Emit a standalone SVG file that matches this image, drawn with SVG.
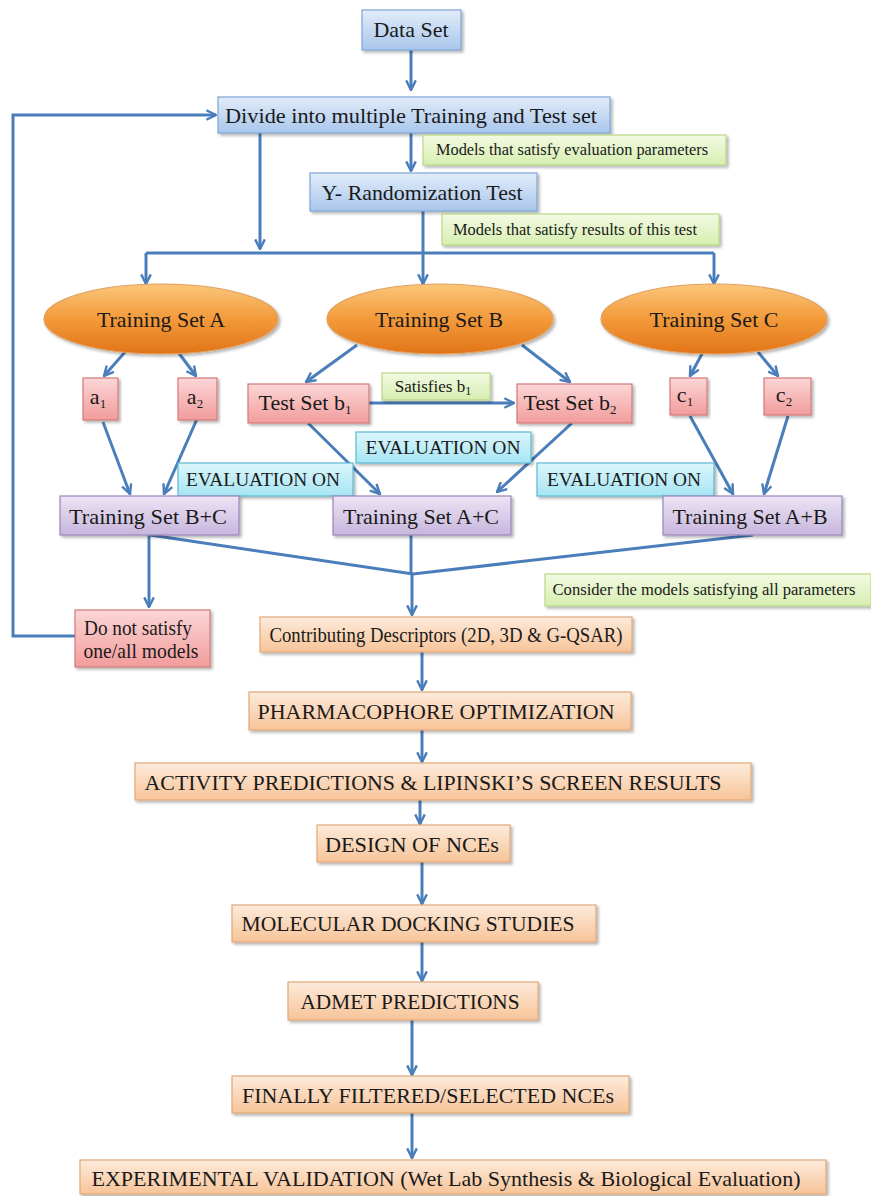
<svg xmlns="http://www.w3.org/2000/svg" width="871" height="1196" viewBox="0 0 871 1196">
<defs>
<linearGradient id="gBlue" x1="0" y1="0" x2="0" y2="1"><stop offset="0" stop-color="#e2edf9"/><stop offset="1" stop-color="#a9c6ec"/></linearGradient>
<linearGradient id="gOrange" x1="0" y1="0" x2="0" y2="1"><stop offset="0" stop-color="#fbc67a"/><stop offset="0.5" stop-color="#f39a3a"/><stop offset="1" stop-color="#e27418"/></linearGradient>
<linearGradient id="gPink" x1="0" y1="0" x2="0" y2="1"><stop offset="0" stop-color="#fbd6d6"/><stop offset="1" stop-color="#f29c9c"/></linearGradient>
<linearGradient id="gPurple" x1="0" y1="0" x2="0" y2="1"><stop offset="0" stop-color="#ece4f4"/><stop offset="1" stop-color="#c7b6dd"/></linearGradient>
<linearGradient id="gCyan" x1="0" y1="0" x2="0" y2="1"><stop offset="0" stop-color="#dcf6fc"/><stop offset="1" stop-color="#a6e5f4"/></linearGradient>
<linearGradient id="gGreen" x1="0" y1="0" x2="0" y2="1"><stop offset="0" stop-color="#f3fae3"/><stop offset="1" stop-color="#d6eeb0"/></linearGradient>
<linearGradient id="gPeach" x1="0" y1="0" x2="0" y2="1"><stop offset="0" stop-color="#fdebdc"/><stop offset="1" stop-color="#f7c498"/></linearGradient>
<filter id="sh" x="-10%" y="-20%" width="120%" height="150%"><feDropShadow dx="2" dy="2" stdDeviation="1.5" flood-color="#000" flood-opacity="0.3"/></filter>
<marker id="ah" viewBox="0 0 10 10" refX="9" refY="5" markerWidth="12" markerHeight="12" markerUnits="userSpaceOnUse" orient="auto"><path d="M1,1 L9,5 L1,9" fill="none" stroke="#4a7ebb" stroke-width="2"/></marker>
</defs>
<style>
text{font-family:"Liberation Serif","Times New Roman",serif;fill:#1a1a1a;text-anchor:middle}
.t{font-size:22px}
.s{font-size:16px}
.blue{fill:url(#gBlue);stroke:#7fa5d6;stroke-width:1.2;filter:url(#sh)}
.orange{fill:url(#gOrange);stroke:#e0a060;stroke-width:1.2;filter:url(#sh)}
.pink{fill:url(#gPink);stroke:#d27a7a;stroke-width:1.2;filter:url(#sh)}
.purple{fill:url(#gPurple);stroke:#9a86b8;stroke-width:1.2;filter:url(#sh)}
.cyan{fill:url(#gCyan);stroke:#5cbad2;stroke-width:1.2;filter:url(#sh)}
.green{fill:url(#gGreen);stroke:#b8d786;stroke-width:1.2;filter:url(#sh)}
.peach{fill:url(#gPeach);stroke:#e2a878;stroke-width:1.2;filter:url(#sh)}
.c{fill:none;stroke:#4a7ebb;stroke-width:3}
.ca{fill:none;stroke:#4a7ebb;stroke-width:3;marker-end:url(#ah)}
</style>
<rect width="871" height="1196" fill="#ffffff"/>

<g id="connectors">
<path class="ca" d="M411,50 V90"/>
<path class="ca" d="M75,636 H13 V115 H216"/>
<path class="ca" d="M260,133 V249"/>
<path class="ca" d="M411,133 V171"/>
<path class="c" d="M146,253 H714"/>
<path class="c" d="M423,210 V253"/>
<path class="ca" d="M146,253 V284"/>
<path class="ca" d="M423,253 V284"/>
<path class="ca" d="M714,253 V284"/>
<path class="ca" d="M125,352 L104,376"/>
<path class="ca" d="M178,352 L196,376"/>
<path class="ca" d="M357,345 L306,382"/>
<path class="ca" d="M522,345 L570,382"/>
<path class="ca" d="M703,352 L690,376"/>
<path class="ca" d="M758,352 L778,376"/>
<path class="ca" d="M369,403 L514,403"/>
<path class="ca" d="M103,422 L130,494"/>
<path class="ca" d="M197,419 L164,494"/>
<path class="ca" d="M308,423 L380,494"/>
<path class="ca" d="M572,423 L497,492"/>
<path class="ca" d="M690,416 L733,494"/>
<path class="ca" d="M788,416 L764,494"/>
<path class="c" d="M150,535 L413,574 L753,535"/>
<path class="c" d="M411,535 V574"/>
<path class="ca" d="M149,535 V607"/>
<path class="ca" d="M412,574 V615"/>
<path class="ca" d="M422,652 V690"/>
<path class="ca" d="M422,730 V762"/>
<path class="ca" d="M420,800 V824"/>
<path class="ca" d="M422,862 V904"/>
<path class="ca" d="M422,942 V981"/>
<path class="ca" d="M412,1020 V1075"/>
<path class="ca" d="M412,1113 V1158"/>
</g>

<g id="data-set"><rect class="blue" x="362" y="10" width="99" height="40"/><text class="t" x="411" y="37" textLength="75" lengthAdjust="spacingAndGlyphs">Data Set</text></g>
<g id="divide"><rect class="blue" x="218" y="97" width="392" height="36"/><text class="t" x="411" y="123" textLength="372" lengthAdjust="spacingAndGlyphs">Divide into multiple Training and Test set</text></g>
<g id="label-eval-params"><rect class="green" x="423" y="135" width="303" height="30"/><text class="s" x="572" y="155" textLength="272" lengthAdjust="spacingAndGlyphs">Models that satisfy evaluation parameters</text></g>
<g id="y-randomization"><rect class="blue" x="310" y="173" width="227" height="38"/><text class="t" x="422" y="200" textLength="201" lengthAdjust="spacingAndGlyphs">Y- Randomization Test</text></g>
<g id="label-results-test"><rect class="green" x="442" y="214" width="277" height="31"/><text class="s" x="575" y="235" textLength="244" lengthAdjust="spacingAndGlyphs">Models that satisfy results of this test</text></g>

<g id="training-set-a"><ellipse class="orange" cx="161" cy="319" rx="117" ry="35"/><text class="t" x="161" y="327" textLength="128" lengthAdjust="spacingAndGlyphs" fill="#2a1a08">Training Set A</text></g>
<g id="training-set-b"><ellipse class="orange" cx="440" cy="319" rx="113" ry="35"/><text class="t" x="439" y="327" textLength="128" lengthAdjust="spacingAndGlyphs" fill="#2a1a08">Training Set B</text></g>
<g id="training-set-c"><ellipse class="orange" cx="714" cy="319" rx="113" ry="35"/><text class="t" x="714" y="327" textLength="129" lengthAdjust="spacingAndGlyphs" fill="#2a1a08">Training Set C</text></g>

<g id="a1"><rect class="pink" x="83" y="378" width="35" height="42"/><text class="t" x="98" y="404">a<tspan font-size="13" dy="4">1</tspan></text></g>
<g id="a2"><rect class="pink" x="178" y="378" width="39" height="42"/><text class="t" x="195" y="404">a<tspan font-size="13" dy="4">2</tspan></text></g>
<g id="test-set-b1"><rect class="pink" x="248" y="384" width="121" height="39"/><text class="t" x="305" y="410">Test Set b<tspan font-size="13" dy="4">1</tspan></text></g>
<g id="satisfies-b1"><rect class="green" x="382" y="373" width="108" height="27"/><text class="s" x="433" y="392" style="font-size:17px">Satisfies b<tspan font-size="12" dy="3">1</tspan></text></g>
<g id="test-set-b2"><rect class="pink" x="517" y="384" width="115" height="39"/><text class="t" x="570" y="410">Test Set b<tspan font-size="13" dy="4">2</tspan></text></g>
<g id="c1"><rect class="pink" x="670" y="378" width="37" height="37"/><text class="t" x="685" y="402">c<tspan font-size="13" dy="4">1</tspan></text></g>
<g id="c2"><rect class="pink" x="764" y="378" width="47" height="37"/><text class="t" x="784" y="402">c<tspan font-size="13" dy="4">2</tspan></text></g>

<g id="eval-middle"><rect class="cyan" x="356" y="432" width="175" height="31"/><text class="s" x="443" y="454" style="font-size:18px" textLength="155" lengthAdjust="spacingAndGlyphs">EVALUATION ON</text></g>
<g id="eval-left"><rect class="cyan" x="178" y="463" width="175" height="33"/><text class="s" x="263" y="486" style="font-size:18px" textLength="154" lengthAdjust="spacingAndGlyphs">EVALUATION ON</text></g>
<g id="eval-right"><rect class="cyan" x="537" y="463" width="177" height="33"/><text class="s" x="624" y="486" style="font-size:18px" textLength="154" lengthAdjust="spacingAndGlyphs">EVALUATION ON</text></g>

<g id="training-set-bc"><rect class="purple" x="60" y="496" width="179" height="39"/><text class="t" x="148" y="524" textLength="158" lengthAdjust="spacingAndGlyphs">Training Set B+C</text></g>
<g id="training-set-ac"><rect class="purple" x="333" y="496" width="178" height="39"/><text class="t" x="421" y="524" textLength="156" lengthAdjust="spacingAndGlyphs">Training Set A+C</text></g>
<g id="training-set-ab"><rect class="purple" x="663" y="496" width="179" height="39"/><text class="t" x="750" y="524" textLength="155" lengthAdjust="spacingAndGlyphs">Training Set A+B</text></g>

<g id="label-all-params"><rect class="green" x="545" y="574" width="326" height="32"/><text class="s" x="704" y="595" textLength="303" lengthAdjust="spacingAndGlyphs">Consider the models satisfying all parameters</text></g>
<g id="do-not-satisfy"><rect class="pink" x="75" y="610" width="135" height="57"/><text class="t" x="138" y="635" textLength="108" lengthAdjust="spacingAndGlyphs">Do not satisfy</text><text class="t" x="141" y="658" textLength="115" lengthAdjust="spacingAndGlyphs">one/all models</text></g>
<g id="contributing"><rect class="peach" x="260" y="617" width="372" height="35"/><text class="t" x="446" y="642" textLength="353" lengthAdjust="spacingAndGlyphs">Contributing Descriptors (2D, 3D &amp; G-QSAR)</text></g>
<g id="pharmacophore"><rect class="peach" x="249" y="692" width="382" height="38"/><text class="t" x="436" y="719" textLength="357" lengthAdjust="spacingAndGlyphs">PHARMACOPHORE  OPTIMIZATION</text></g>
<g id="activity"><rect class="peach" x="135" y="763" width="616" height="37"/><text class="t" x="433" y="790" textLength="577" lengthAdjust="spacingAndGlyphs">ACTIVITY PREDICTIONS &amp; LIPINSKI’S SCREEN RESULTS</text></g>
<g id="design"><rect class="peach" x="317" y="825" width="193" height="37"/><text class="t" x="412" y="852" textLength="174" lengthAdjust="spacingAndGlyphs">DESIGN OF NCEs</text></g>
<g id="docking"><rect class="peach" x="232" y="905" width="364" height="37"/><text class="t" x="408" y="931" textLength="333" lengthAdjust="spacingAndGlyphs">MOLECULAR DOCKING STUDIES</text></g>
<g id="admet"><rect class="peach" x="288" y="982" width="250" height="38"/><text class="t" x="410" y="1009" textLength="219" lengthAdjust="spacingAndGlyphs">ADMET PREDICTIONS</text></g>
<g id="finally"><rect class="peach" x="232" y="1076" width="397" height="37"/><text class="t" x="428" y="1103" textLength="372" lengthAdjust="spacingAndGlyphs">FINALLY FILTERED/SELECTED NCEs</text></g>
<g id="experimental"><rect class="peach" x="80" y="1160" width="746" height="34"/><text class="t" x="446" y="1186" textLength="709" lengthAdjust="spacingAndGlyphs">EXPERIMENTAL VALIDATION (Wet Lab Synthesis &amp; Biological Evaluation)</text></g>
</svg>
